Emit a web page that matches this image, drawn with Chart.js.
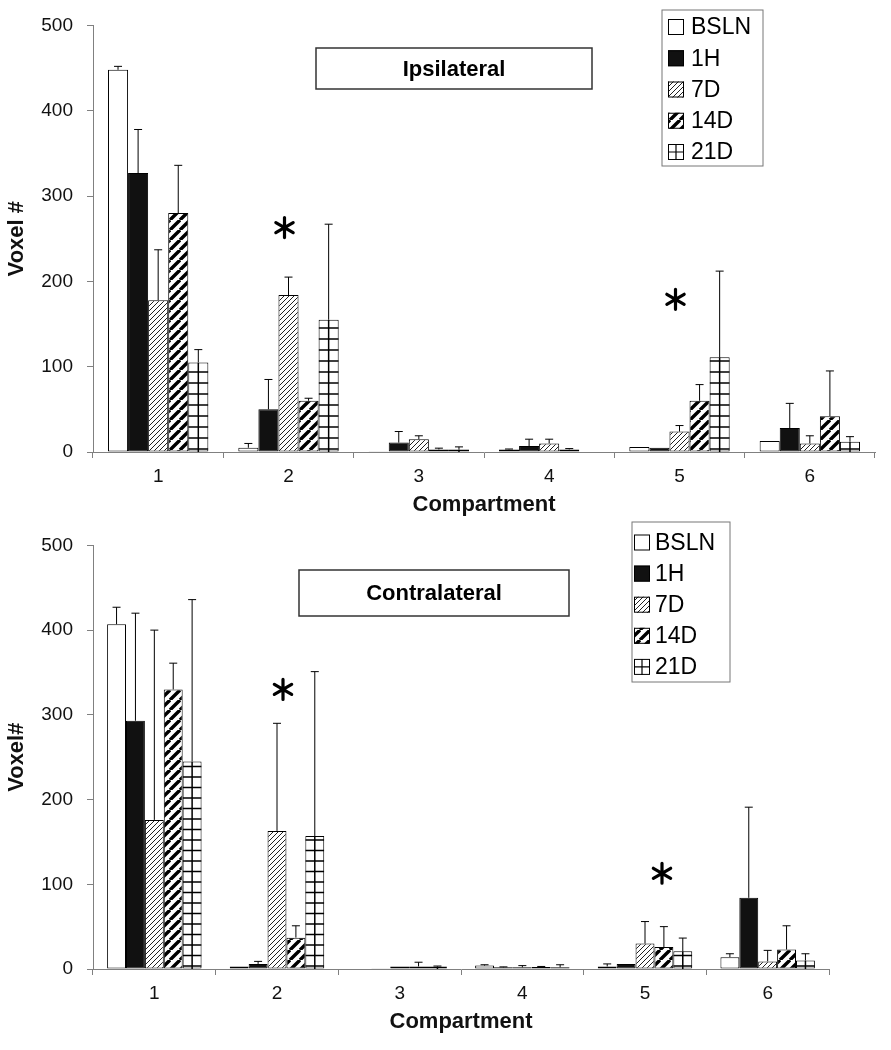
<!DOCTYPE html>
<html>
<head>
<meta charset="utf-8">
<script src="https://cdn.jsdelivr.net/npm/chart.js@4.4.1/dist/chart.umd.min.js"></script>
<style>
  html, body { margin: 0; padding: 0; background: #fff; }
  canvas { display: block; }
</style>
</head>
<body>
<canvas id="ipsiChart" width="891" height="520"></canvas>
<canvas id="contraChart" width="891" height="530"></canvas>
<script>
// Voxel counts per compartment, mean + upper SD
const compartments = ['1', '2', '3', '4', '5', '6'];
const groups = ['BSLN', '1H', '7D', '14D', '21D'];
const yTicks = [0, 100, 200, 300, 400, 500];

// Ipsilateral
const ipsiBSLN = [448, 5, 1, 3, 6, 13];
const ipsi1H = [327, 50, 11, 7, 5, 28];
const ipsi7D = [178, 184, 15, 10, 24, 10];
const ipsi14D = [280, 60, 3, 3, 60, 42];
const ipsi21D = [105, 155, 3, 0.5, 111, 12];
const ipsiErrBSLN = [4, 5, 0, 0.5, 0, 0];
const ipsiErr1H = [51, 35, 13, 8, 0, 29];
const ipsiErr7D = [59, 21, 4, 5, 7, 9];
const ipsiErr14D = [56, 3, 1.5, 1, 19, 53];
const ipsiErr21D = [15, 112, 3, 0, 101, 6];
const ipsiStars = [{ cat: '2', value: 263 }, { cat: '5', value: 179 }];

// Contralateral
const contraBSLN = [407, 3, 0.5, 4, 3, 14];
const contra1H = [293, 6, 1, 2, 6, 84];
const contra7D = [176, 163, 3, 2, 30, 9];
const contra14D = [330, 37, 3, 2.5, 26, 23];
const contra21D = [245, 157, 3, 2, 21, 10];
const contraErrBSLN = [20, 0, 0, 1, 3, 4];
const contraErr1H = [127, 3, 0, 0.5, 0, 107];
const contraErr7D = [224, 127, 0, 2, 26, 13];
const contraErr14D = [31, 14, 5, 0.5, 24, 28];
const contraErr21D = [191, 194, 0.5, 3, 15.5, 8];
const contraStars = [{ cat: '2', value: 330 }, { cat: '5', value: 113 }];

const FONT = '"Liberation Sans", Arial, Helvetica, sans-serif';

function makeHatch(size, lw, color) {
  const c = document.createElement('canvas');
  c.width = c.height = size;
  const g = c.getContext('2d');
  g.fillStyle = '#fff';
  g.fillRect(0, 0, size, size);
  g.strokeStyle = color;
  g.lineWidth = lw;
  g.beginPath();
  for (let k = -1; k <= 1; k++) {
    g.moveTo(k * size, size);
    g.lineTo(k * size + size, 0);
  }
  g.stroke();
  return g.createPattern(c, 'repeat');
}

const fineHatch = makeHatch(5, 1, '#222');
const boldHatch = makeHatch(10, 3.4, '#000');

function drawGridFill(ctx, left, top, right, bottom, rowH) {
  ctx.save();
  ctx.beginPath();
  ctx.rect(left, top, right - left, bottom - top);
  ctx.clip();
  ctx.strokeStyle = '#000';
  ctx.lineWidth = 1.5;
  ctx.beginPath();
  const mid = (left + right) / 2;
  ctx.moveTo(mid, top);
  ctx.lineTo(mid, bottom);
  for (let y = bottom - 3; y > top; y -= rowH) {
    ctx.moveTo(left, y);
    ctx.lineTo(right, y);
  }
  ctx.stroke();
  ctx.restore();
}

function drawStar(ctx, x, y, r) {
  ctx.save();
  ctx.strokeStyle = '#000';
  ctx.lineWidth = 3.2;
  ctx.lineCap = 'round';
  ctx.beginPath();
  [90, 30, -30].forEach(a => {
    const rad = a * Math.PI / 180;
    ctx.moveTo(x - r * Math.cos(rad), y + r * Math.sin(rad));
    ctx.lineTo(x + r * Math.cos(rad), y - r * Math.sin(rad));
  });
  ctx.stroke();
  ctx.restore();
}

const figureExtras = {
  id: 'figureExtras',
  afterDatasetsDraw(chart, args, opts) {
    const ctx = chart.ctx;
    const xs = chart.scales.x, ys = chart.scales.y;
    const base = ys.getPixelForValue(0);

    chart.data.datasets.forEach((ds, di) => {
      const meta = chart.getDatasetMeta(di);
      meta.data.forEach((bar, i) => {
        const left = bar.x - bar.width / 2, right = bar.x + bar.width / 2;
        if (ds.gridFill && base - bar.y > 2) drawGridFill(ctx, left, bar.y, right, base, opts.rowH);
        const e = ds.errors[i];
        if (e > 0) {
          const yTop = ys.getPixelForValue(ds.data[i] + e);
          ctx.save();
          ctx.strokeStyle = '#000';
          ctx.lineWidth = 1;
          ctx.beginPath();
          ctx.moveTo(bar.x, bar.y);
          ctx.lineTo(bar.x, yTop);
          ctx.moveTo(bar.x - 4, yTop);
          ctx.lineTo(bar.x + 4, yTop);
          ctx.stroke();
          ctx.restore();
        }
      });
    });

    opts.stars.forEach((s, k) => {
      drawStar(ctx, xs.getPixelForValue(compartments.indexOf(s.cat)) + opts.starDx[k], ys.getPixelForValue(s.value), 10);
    });

    // panel label box
    const tb = opts.titleBox;
    ctx.save();
    ctx.fillStyle = '#fff';
    ctx.fillRect(tb.x, tb.y, tb.w, tb.h);
    ctx.strokeStyle = '#333';
    ctx.lineWidth = 1.5;
    ctx.strokeRect(tb.x, tb.y, tb.w, tb.h);
    ctx.fillStyle = '#000';
    ctx.font = 'bold 22px ' + FONT;
    ctx.textAlign = 'center';
    ctx.textBaseline = 'middle';
    ctx.fillText(opts.panel, tb.x + tb.w / 2, tb.y + tb.h / 2 + 1);
    ctx.restore();

    // legend box
    const lb = opts.legendBox;
    ctx.save();
    ctx.fillStyle = '#fff';
    ctx.fillRect(lb.x, lb.y, lb.w, lb.h);
    ctx.strokeStyle = '#777';
    ctx.lineWidth = 1;
    ctx.strokeRect(lb.x, lb.y, lb.w, lb.h);
    ctx.font = '23px ' + FONT;
    ctx.textBaseline = 'middle';
    chart.data.datasets.forEach((ds, di) => {
      const cy = lb.row0 + di * lb.rowStep;
      const sx = lb.swatchX, sy = cy - 8;
      ctx.fillStyle = ds.backgroundColor;
      ctx.fillRect(sx, sy, 16, 16);
      if (ds.gridFill) {
        ctx.strokeStyle = '#000';
        ctx.lineWidth = 1.2;
        ctx.beginPath();
        ctx.moveTo(sx + 8, sy); ctx.lineTo(sx + 8, sy + 16);
        ctx.moveTo(sx, sy + 8); ctx.lineTo(sx + 16, sy + 8);
        ctx.stroke();
      }
      ctx.strokeStyle = '#000';
      ctx.lineWidth = 1;
      ctx.strokeRect(sx + 0.5, sy + 0.5, 15, 15);
      ctx.fillStyle = '#000';
      ctx.fillText(ds.label, lb.textX, cy + 1);
    });
    ctx.restore();
  }
};

function buildDatasets(values, errors) {
  const fills = ['#fff', '#111', fineHatch, boldHatch, '#fff'];
  return groups.map((g, i) => ({
    label: g,
    data: values[i],
    errors: errors[i],
    gridFill: g === '21D',
    backgroundColor: fills[i],
    borderColor: '#000',
    borderWidth: 1,
    borderSkipped: false,
    categoryPercentage: 0.77,
    barPercentage: 1.0
  }));
}

function buildOptions(cfg) {
  return {
    responsive: false,
    animation: false,
    layout: { padding: { left: 0, right: cfg.padRight, top: cfg.padTop, bottom: cfg.padBottom } },
    plugins: {
      legend: { display: false },
      tooltip: { enabled: false },
      figureExtras: cfg.extras
    },
    scales: {
      x: {
        grid: { drawOnChartArea: false, drawTicks: true, tickLength: 6, color: '#808080', offset: true },
        border: { color: '#808080', width: 1 },
        ticks: { color: '#111', font: { size: 19, family: FONT }, padding: 7, maxRotation: 0 },
        title: { display: true, text: 'Compartment', color: '#111', font: { size: 22, weight: 'bold', family: FONT }, padding: 0 },
        afterFit(scale) { scale.height = 66; }
      },
      y: {
        min: 0,
        max: 500,
        afterBuildTicks(scale) { scale.ticks = yTicks.map(v => ({ value: v })); },
        ticks: { color: '#111', font: { size: 19, family: FONT }, padding: 14 },
        grid: { drawOnChartArea: false, drawTicks: true, tickLength: 6, color: '#808080' },
        border: { color: '#808080', width: 1 },
        title: { display: true, text: cfg.yTitle, color: '#111', font: { size: 22, weight: 'bold', family: FONT }, padding: { top: 4, bottom: 0 } },
        afterFit(scale) { scale.width = 93; }
      }
    }
  };
}

new Chart(document.getElementById('ipsiChart'), {
  type: 'bar',
  data: {
    labels: compartments,
    datasets: buildDatasets(
      [ipsiBSLN, ipsi1H, ipsi7D, ipsi14D, ipsi21D],
      [ipsiErrBSLN, ipsiErr1H, ipsiErr7D, ipsiErr14D, ipsiErr21D]
    )
  },
  options: buildOptions({
    padTop: 22, padRight: 16, padBottom: 2, yTitle: 'Voxel #',
    extras: {
      panel: 'Ipsilateral',
      titleBox: { x: 316, y: 48, w: 276, h: 41 },
      legendBox: { x: 662, y: 10, w: 101, h: 156, swatchX: 668, textX: 691, row0: 27, rowStep: 31.25 },
      stars: ipsiStars, starDx: [-4, -4],
      rowH: 11
    }
  }),
  plugins: [figureExtras]
});

new Chart(document.getElementById('contraChart'), {
  type: 'bar',
  data: {
    labels: compartments,
    datasets: buildDatasets(
      [contraBSLN, contra1H, contra7D, contra14D, contra21D],
      [contraErrBSLN, contraErr1H, contraErr7D, contraErr14D, contraErr21D]
    )
  },
  options: buildOptions({
    padTop: 21, padRight: 62, padBottom: 15, yTitle: 'Voxel#',
    extras: {
      panel: 'Contralateral',
      titleBox: { x: 299, y: 50, w: 270, h: 46 },
      legendBox: { x: 632, y: 2, w: 98, h: 160, swatchX: 634, textX: 655, row0: 22.5, rowStep: 31.1 },
      stars: contraStars, starDx: [6, 17],
      rowH: 10.5
    }
  }),
  plugins: [figureExtras]
});
</script>
</body>
</html>
